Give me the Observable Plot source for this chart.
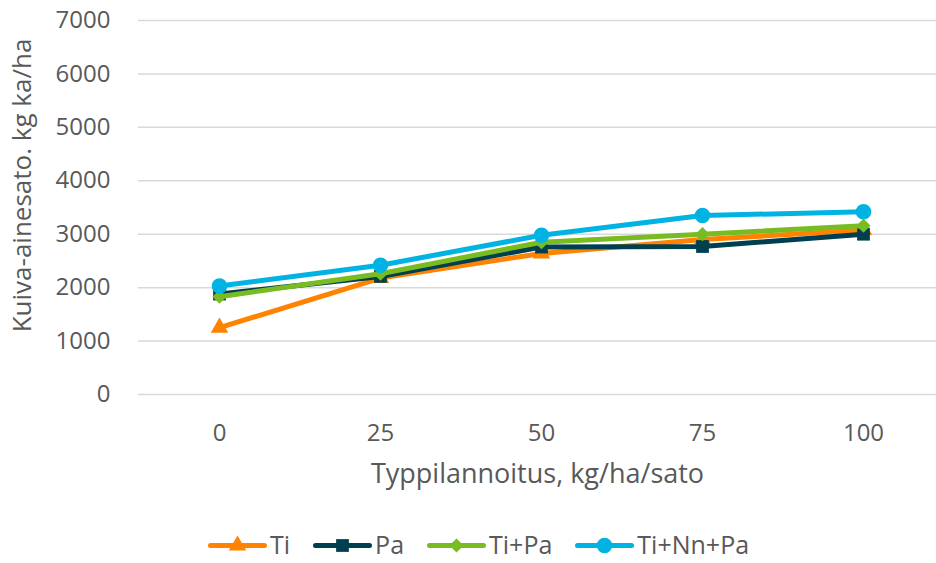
<!DOCTYPE html>
<html>
<head>
<meta charset="utf-8">
<script src="https://cdn.jsdelivr.net/npm/d3@7"></script>
<script src="https://cdn.jsdelivr.net/npm/@observablehq/plot@0.6"></script>
<style>
  body { margin: 0; background: #fff; font-family: "Open Sans", sans-serif; }
  #legend { display: flex; align-items: center; margin-left: 207px; margin-top: 32px; font-size: 25px; line-height: 25px; color: #595959; }
  .item { display: flex; align-items: center; margin-right: 22px; white-space: nowrap; }
  .item svg { margin-right: 3px; flex: none; }
</style>
</head>
<body>
<div id="chart"></div>
<div id="legend"></div>
<script>
const categories = [0, 25, 50, 75, 100];
const seriesNames = ["Ti", "Pa", "Ti+Pa", "Ti+Nn+Pa"];
const ti = [1250, 2180, 2640, 2900, 3080];
const pa = [1880, 2210, 2760, 2770, 3000];
const tiPa = [1830, 2260, 2850, 3000, 3160];
const tiNnPa = [2030, 2420, 2980, 3350, 3420];
const colors = ["#FF8200", "#003F50", "#78BC22", "#00B3E3"];
const symbols = ["triangle", "square", "diamond2", "circle"];
const radii = [6.5, 7.2, 6.4, 7.8];
const yTicks = [0, 1000, 2000, 3000, 4000, 5000, 6000, 7000];

const values = [ti, pa, tiPa, tiNnPa];
const data = [];
seriesNames.forEach((s, i) => categories.forEach((c, j) => data.push({series: s, x: c, y: values[i][j]})));

const marks = [
  Plot.gridY(yTicks, {stroke: "#D9D9D9", strokeOpacity: 1, strokeWidth: 1.5}),
  Plot.axisY(yTicks, {tickSize: 0, tickPadding: 28, fontSize: 24, fill: "#595959", label: null, tickFormat: d3.format("d")}),
  Plot.axisX(categories, {tickSize: 0, tickPadding: 29, fontSize: 24, fill: "#595959",
    label: "Typpilannoitus, kg/ha/sato", labelAnchor: "center", labelArrow: "none", labelOffset: 88}),
  Plot.text(["Kuiva-ainesato. kg ka/ha"], {frameAnchor: "left", textAnchor: "middle", rotate: -90, dx: -116, dy: -22, fontSize: 26, fill: "#595959"})
];
seriesNames.forEach((s, i) => {
  const d = data.filter(r => r.series === s);
  marks.push(Plot.line(d, {x: "x", y: "y", stroke: colors[i], strokeWidth: 5, strokeLinejoin: "round", strokeLinecap: "round"}));
  marks.push(Plot.dot(d, {x: "x", y: "y", symbol: symbols[i], r: radii[i], fill: colors[i], stroke: "none"}));
});

const chart = Plot.plot({
  width: 936,
  height: 500,
  marginLeft: 138,
  marginRight: 0,
  marginTop: 20,
  marginBottom: 106,
  style: {fontFamily: "'Open Sans', sans-serif", color: "#595959", background: "#fff"},
  x: {type: "point", domain: categories, range: [218, 864], padding: 0},
  y: {domain: [0, 7000]},
  marks
});
document.getElementById("chart").appendChild(chart);

// x-axis title size
chart.querySelectorAll("g[aria-label='x-axis label'] text").forEach(t => t.setAttribute("font-size", 27));

// legend
const legend = document.getElementById("legend");
seriesNames.forEach((s, i) => {
  const item = document.createElement("div");
  item.className = "item";
  const sw = Plot.plot({
    width: 60, height: 24, margin: 0,
    x: {domain: [0, 1], range: [3, 57], axis: null},
    y: {domain: [0, 1], range: [24, 0], axis: null},
    marks: [
      Plot.line([[0, 0.5], [1, 0.5]], {stroke: colors[i], strokeWidth: 5, strokeLinecap: "round"}),
      Plot.dot([[0.5, 0.5]], {symbol: symbols[i], r: radii[i], fill: colors[i]})
    ]
  });
  item.appendChild(sw);
  const label = document.createElement("span");
  label.textContent = s;
  item.appendChild(label);
  legend.appendChild(item);
});
</script>
</body>
</html>
